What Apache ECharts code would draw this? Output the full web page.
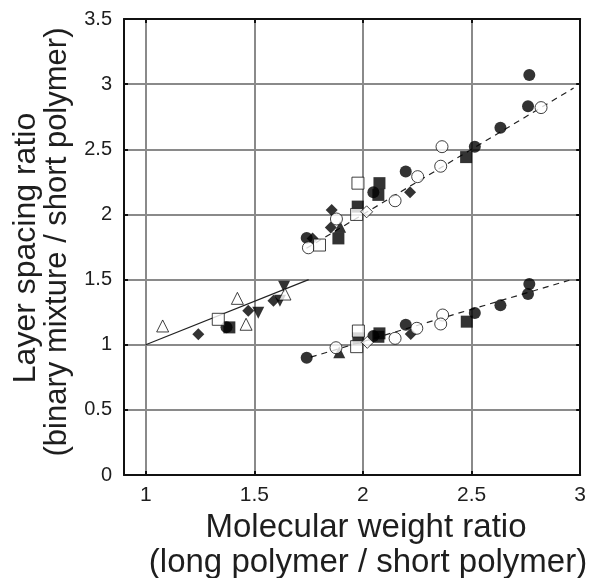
<!DOCTYPE html>
<html>
<head>
<meta charset="utf-8">
<script src="https://cdn.jsdelivr.net/npm/echarts@6/dist/echarts.min.js"></script>
<style>
  html, body { margin: 0; padding: 0; background: #fff; }
  #chart { width: 589px; height: 578px; }
</style>
</head>
<body>
<div id="chart"></div>
<script>
// tick labels
var xTicks = [1, 1.5, 2, 2.5, 3];
var yTicks = [0, 0.5, 1, 1.5, 2, 2.5, 3, 3.5];

// data points by marker type [molecular weight ratio, layer spacing ratio]
var filledCircle = [
    [2.766, 3.07], [2.76, 2.83], [2.633, 2.665], [2.515, 2.52], [2.197, 2.33], [2.048, 2.17], [1.741, 1.82],
    [2.766, 1.466], [2.76, 1.389], [2.633, 1.302], [2.515, 1.243], [2.197, 1.154], [2.048, 1.067], [1.741, 0.90],
    [1.372, 1.135]
];
var openCircle = [
    [2.82, 2.82], [2.364, 2.52], [2.358, 2.37], [2.252, 2.29], [2.148, 2.105], [1.749, 1.744], [1.878, 1.965],
    [2.367, 1.228], [2.358, 1.159], [2.248, 1.126], [2.148, 1.049], [1.876, 0.977]
];
var filledSquare = [
    [2.475, 2.44], [2.076, 2.24], [2.071, 2.15], [1.976, 2.06], [1.887, 1.816],
    [2.478, 1.177], [2.076, 1.087], [2.071, 1.061], [1.979, 1.049],
    [1.385, 1.133]
];
var openSquare = [
    [1.977, 2.24], [1.971, 2.0], [1.80, 1.765],
    [1.979, 1.105], [1.971, 0.985],
    [1.334, 1.195]
];
var filledDiamond = [
    [1.856, 2.034], [1.852, 1.90], [2.217, 2.17], [1.768, 1.815],
    [2.22, 1.082],
    [1.242, 1.08], [1.472, 1.261], [1.588, 1.338]
];
var openDiamond = [[2.017, 2.02], [2.02, 1.018]];
var filledTriangle = [[1.895, 1.905], [1.891, 0.942]];
var openTriangle = [[1.078, 1.144], [1.422, 1.356], [1.462, 1.157], [1.641, 1.389]];
var filledDownTriangle = [[1.518, 1.246], [1.618, 1.338], [1.637, 1.445]];

// fit lines
var solidLine = [[1, 1], [1.75, 1.5]];
var dashUpper = [[1.74, 1.74], [2.97, 2.97]];
var dashLower = [[1.76, 0.905], [2.95, 1.495]];

var chart = echarts.init(document.getElementById('chart'));
var txt = '#1e1e1e';

function axisX(show, pos) {
    return {
        type: 'value', position: pos, min: 0.9, max: 3,
        axisLine: { show: true, onZero: false, lineStyle: { color: '#111', width: 2 } },
        axisTick: { show: true, inside: true, length: 4, customValues: xTicks, lineStyle: { color: '#111', width: 2 } },
        axisLabel: { show: show, customValues: xTicks, margin: 10, fontSize: 21, color: txt, fontFamily: 'Liberation Sans' },
        splitLine: { show: show, lineStyle: { color: '#8a8a8a', width: 2 } }
    };
}
function axisY(show, pos) {
    return {
        type: 'value', position: pos, min: 0, max: 3.5, interval: 0.5,
        axisLine: { show: true, onZero: false, lineStyle: { color: '#111', width: 2 } },
        axisTick: { show: true, inside: true, length: 4, lineStyle: { color: '#111', width: 2 } },
        axisLabel: { show: show, margin: 12, fontSize: 20, color: txt, fontFamily: 'Liberation Sans' },
        splitLine: { show: show, lineStyle: { color: '#8a8a8a', width: 2 } }
    };
}

function pts(data, symbol, size, filled, rotate) {
    return {
        type: 'scatter', data: data, symbol: symbol, symbolSize: size, symbolRotate: rotate || 0,
        z: filled ? 4 : 5,
        itemStyle: filled ? { color: '#000' } : { color: '#fff', borderColor: '#111', borderWidth: 1 }
    };
}
function line(data, dashed) {
    return {
        type: 'line', data: data, symbol: 'none', z: 3,
        lineStyle: { color: '#222', width: 1.2, type: dashed ? [6, 5] : 'solid' }
    };
}

chart.setOption({
    animation: false,
    grid: { left: 124, right: 8, top: 19, bottom: 103 },
    xAxis: [axisX(true, 'bottom'), axisX(false, 'top')],
    yAxis: [axisY(true, 'left'), axisY(false, 'right')],
    graphic: [
        { type: 'text', x: 366, y: 528, style: { text: 'Molecular weight ratio', fontSize: 33, fill: txt, fontFamily: 'Liberation Sans', align: 'center', verticalAlign: 'middle' } },
        { type: 'text', x: 368, y: 563, style: { text: '(long polymer / short polymer)', fontSize: 33, fill: txt, fontFamily: 'Liberation Sans', align: 'center', verticalAlign: 'middle' } },
        { type: 'text', x: 26, y: 248, rotation: Math.PI / 2, style: { text: 'Layer spacing ratio', fontSize: 32, fill: txt, fontFamily: 'Liberation Sans', align: 'center', verticalAlign: 'middle' } },
        { type: 'text', x: 57, y: 242, rotation: Math.PI / 2, style: { text: '(binary mixture / short polymer)', fontSize: 31, fill: txt, fontFamily: 'Liberation Sans', align: 'center', verticalAlign: 'middle' } }
    ],
    series: [
        line(solidLine, false),
        line(dashUpper, true),
        line(dashLower, true),
        pts(openCircle, 'circle', 12, false),
        pts(openSquare, 'rect', 12, false),
        pts(openDiamond, 'diamond', 12, false),
        pts(openTriangle, 'triangle', 12, false),
        pts(filledCircle, 'circle', 12, true),
        pts(filledSquare, 'rect', 12, true),
        pts(filledDiamond, 'diamond', 12, true),
        pts(filledTriangle, 'triangle', 12, true),
        pts(filledDownTriangle, 'triangle', 12, true, 180)
    ]
});
window.addEventListener('resize', function () { chart.resize(); });
</script>
</body>
</html>
